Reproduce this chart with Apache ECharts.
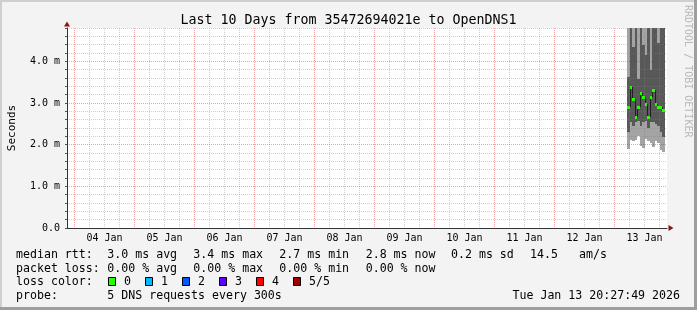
<!DOCTYPE html>
<html><head><meta charset="utf-8">
<script src="https://cdn.jsdelivr.net/npm/echarts@6.0.0/dist/echarts.min.js"></script>
<style>html,body{margin:0;padding:0;background:#f3f3f3}#c{width:697px;height:310px}</style>
</head><body><div id="c"></div>
<script>
// ---------------- data ----------------
const titleText = 'Last 10 Days from 35472694021e to OpenDNS1';
const dayLabels = ['04 Jan','05 Jan','06 Jan','07 Jan','08 Jan','09 Jan','10 Jan','11 Jan','12 Jan','13 Jan'];
const yTickLabels = ['0.0','1.0 m','2.0 m','3.0 m','4.0 m'];
// hourly bins on 13 Jan (start hour, UTC); x axis = hours since 03 Jan 00:00
const binHour = [5,6,7,8,9,10,11,12,13,14,15,16,17,18,19];
// sorted ping ranks in ms; ping5 clipped at chart top
const ping1  = [1.90,2.11,2.09,2.11,2.21,1.97,1.92,2.14,2.09,2.04,1.94,2.09,2.04,1.87,1.82];
const ping2  = [2.30,2.54,2.45,2.54,2.57,2.45,2.54,2.57,2.40,2.54,2.54,2.50,2.45,2.30,2.18];
const median = [2.90,3.38,3.10,2.66,2.90,3.25,3.14,2.98,2.66,3.14,3.31,2.98,2.91,2.91,2.83];
const ping4  = [3.62,4.80,4.35,4.80,3.57,4.80,4.40,4.16,4.80,3.80,4.80,4.80,4.45,4.80,4.80];
const ping5  = [4.80,4.80,4.80,4.80,4.80,4.80,4.80,4.80,4.80,4.80,4.80,4.80,4.80,4.80,4.80];
const medianStats = ['3.0 ms avg','3.4 ms max','2.7 ms min','2.8 ms now','0.2 ms sd','14.5','am/s'];
const lossStats = ['0.00 % avg','0.00 % max','0.00 % min','0.00 % now'];
const lossLabels = ['0','1','2','3','4','5/5'];
const lossColors = ['#26ff00','#00b8ff','#0059ff','#5e00ff','#ff0000','#a10000'];
const probeText = '5 DNS requests every 300s';
const stampText = 'Tue Jan 13 20:27:49 2026';
const watermark = 'RRDTOOL / TOBI OETIKER';

// ---------------- styling / layout ----------------
const MONO = 'DejaVu Sans Mono';
const DAY13 = 240;          // hours from 03 Jan 00:00 to 13 Jan 00:00
const BIN = 1;              // bin duration in hours
const LIGHT = '#a4a4a4', DARK = '#585858';
const GRID_MINOR = 'rgba(130,130,130,0.38)', GRID_MAJOR = 'rgba(222,22,22,0.4)', AXIS = '#333333', ARROW = '#8b1515';
const NONE = 'rgba(0,0,0,0)';

const smokeData = binHour.map((h, i) => [DAY13 + h, ping1[i], ping2[i], ping4[i], ping5[i]]);
const medianData = binHour.map((h, i) => [DAY13 + h, median[i]]);

function renderSmoke(params, api) {
  const h = api.value(0);
  const xa = Math.round(api.coord([h, 0])[0]);
  const xb = Math.round(api.coord([h + BIN, 0])[0]);
  const yy = k => Math.round(api.coord([h, api.value(k)])[1]);
  const y1 = yy(1), y2 = yy(2), y4 = yy(3), y5 = yy(4);
  return { type: 'group', children: [
    { type: 'rect', shape: { x: xa, y: y5, width: xb - xa, height: y1 - y5 }, style: { fill: LIGHT } },
    { type: 'rect', shape: { x: xa, y: y4, width: xb - xa, height: y2 - y4 }, style: { fill: DARK } }
  ]};
}
function renderMedian(params, api) {
  const i = params.dataIndex;
  const h = api.value(0), m = api.value(1);
  const xa = Math.round(api.coord([h, m])[0]);
  const xb = Math.round(api.coord([h + BIN, m])[0]);
  const ym = Math.round(api.coord([h, m])[1]);
  const ch = [];
  if (i > 0) {
    const yp = Math.round(api.coord([h, median[i - 1]])[1]);
    ch.push({ type: 'line', shape: { x1: xa + 0.5, y1: yp, x2: xa + 0.5, y2: ym }, style: { stroke: '#202020', lineWidth: 1 } });
  }
  ch.push({ type: 'rect', shape: { x: xa, y: ym - 1, width: xb - xa, height: 3 }, style: { fill: lossColors[0] } });
  return { type: 'group', children: ch };
}

// vertical grid every 3h starting 21:00 -> pattern: none, day(red), none, 6h, none, 6h, none, 6h
const xGridColors = [NONE, GRID_MAJOR, NONE, GRID_MINOR, NONE, GRID_MINOR, NONE, GRID_MINOR];
const yGridColors = [GRID_MAJOR, GRID_MINOR, GRID_MINOR, GRID_MINOR, GRID_MINOR];

function fmtX(v) {
  const k = (v - 36) / 24;
  return (Number.isInteger(k) && k >= 0 && k < dayLabels.length) ? dayLabels[k] : '';
}
function fmtY(v) {
  const r = Math.round(v);
  return Math.abs(v - r) < 1e-6 ? yTickLabels[r] : '';
}

// ---------------- graphics (frame + legend) ----------------
const TXT = { fontFamily: MONO, fontSize: 11.6, fill: '#000', verticalAlign: 'middle' };
const colX = [16, 107.3, 193.3, 279.3, 365.7, 451, 530, 579];
const rowY = [254.5, 268.5, 282, 296];
const g = [];
g.push({ type: 'rect', shape: { x: 0, y: 0, width: 697, height: 2 }, style: { fill: '#cfcfcf' }, silent: true });
g.push({ type: 'rect', shape: { x: 0, y: 0, width: 2, height: 310 }, style: { fill: '#cfcfcf' }, silent: true });
g.push({ type: 'rect', shape: { x: 694, y: 0, width: 3, height: 310 }, style: { fill: '#9e9e9e' }, silent: true });
g.push({ type: 'rect', shape: { x: 0, y: 307, width: 697, height: 3 }, style: { fill: '#9e9e9e' }, silent: true });
g.push({ type: 'text', x: colX[0], y: rowY[0], style: Object.assign({ text: 'median rtt:' }, TXT) });
medianStats.forEach((t, i) => g.push({ type: 'text', x: colX[i + 1], y: rowY[0], style: Object.assign({ text: t }, TXT) }));
g.push({ type: 'text', x: colX[0], y: rowY[1], style: Object.assign({ text: 'packet loss:' }, TXT) });
lossStats.forEach((t, i) => g.push({ type: 'text', x: colX[i + 1], y: rowY[1], style: Object.assign({ text: t }, TXT) }));
g.push({ type: 'text', x: colX[0], y: rowY[2], style: Object.assign({ text: 'loss color:' }, TXT) });
lossLabels.forEach((t, i) => {
  const bx = 108.5 + i * 37;
  g.push({ type: 'rect', shape: { x: bx, y: rowY[2] - 4.5, width: 7, height: 8 }, style: { fill: lossColors[i], stroke: '#000', lineWidth: 1 } });
  g.push({ type: 'text', x: bx + 15.5, y: rowY[2], style: Object.assign({ text: t }, TXT) });
});
g.push({ type: 'text', x: colX[0], y: rowY[3], style: Object.assign({ text: 'probe:' }, TXT) });
g.push({ type: 'text', x: colX[1], y: rowY[3], style: Object.assign({ text: probeText }, TXT) });
g.push({ type: 'text', x: 680, y: rowY[3], style: Object.assign({ text: stampText, align: 'right' }, TXT) });
g.push({ type: 'text', x: 688, y: 5, rotation: -Math.PI / 2,
  style: { text: watermark, fontFamily: MONO, fontSize: 10, fill: '#b8b8b8', align: 'left', verticalAlign: 'middle' } });

const chart = echarts.init(document.getElementById('c'), null, { renderer: 'canvas' });
chart.setOption({
  backgroundColor: '#f3f3f3',
  animation: false,
  title: { text: titleText, left: 'center', top: 9,
    textStyle: { fontFamily: MONO, fontSize: 13.3, fontWeight: 'normal', color: '#000', lineHeight: 14 } },
  grid: { left: 67, right: 30, top: 28, bottom: 82, show: true, backgroundColor: '#ffffff', borderWidth: 0,
    containLabel: false, outerBoundsMode: 'none' },
  xAxis: [
    { type: 'value', min: 21, max: 261, interval: 3, z: 5,
      axisLine: { show: true, onZero: false, lineStyle: { color: AXIS, width: 1 } },
      axisTick: { show: false },
      axisLabel: { formatter: fmtX, margin: 5, fontFamily: MONO, fontSize: 10, color: '#000' },
      splitLine: { show: true, showMinLine: true, showMaxLine: true, lineStyle: { color: xGridColors, width: 1, type: [1, 1] } } },
    { type: 'value', min: 21, max: 261, position: 'bottom', z: 6,
      axisLine: { show: true, onZero: false, symbol: ['none', 'triangle'], symbolSize: [6, 5], symbolOffset: [0, 4], lineStyle: { color: ARROW, width: 0 } },
      axisTick: { show: false }, axisLabel: { show: false }, splitLine: { show: false } }
  ],
  yAxis: [
    { type: 'value', min: 0, max: 4.8, interval: 0.2, z: 5,
      name: 'Seconds', nameLocation: 'middle', nameGap: 49, nameRotate: 90,
      nameTextStyle: { fontFamily: MONO, fontSize: 11, color: '#000' },
      axisLine: { show: true, onZero: false, lineStyle: { color: AXIS, width: 1 } },
      axisTick: { show: true, length: 2, lineStyle: { color: '#555' } },
      axisLabel: { formatter: fmtY, margin: 7, fontFamily: MONO, fontSize: 10, color: '#000' },
      splitLine: { show: true, showMinLine: true, showMaxLine: true, lineStyle: { color: yGridColors, width: 1, type: [1, 1] } } },
    { type: 'value', min: 0, max: 4.8, position: 'left', z: 0,
      axisLine: { show: true, onZero: false, symbol: ['none', 'triangle'], symbolSize: [6, 5], symbolOffset: [0, 4], lineStyle: { color: ARROW, width: 0 } },
      axisTick: { show: false }, axisLabel: { show: false }, splitLine: { show: false },
      splitArea: { show: true, areaStyle: { color: ['#ffffff'] } } }
  ],
  series: [
    { type: 'custom', name: 'smoke', renderItem: renderSmoke, data: smokeData, z: 2, clip: true,
      encode: { x: 0, y: [1, 2, 3, 4] }, silent: true },
    { type: 'custom', name: 'median rtt', renderItem: renderMedian, data: medianData, z: 10, clip: true,
      encode: { x: 0, y: 1 }, silent: true }
  ],
  graphic: g
});
</script></body></html>
